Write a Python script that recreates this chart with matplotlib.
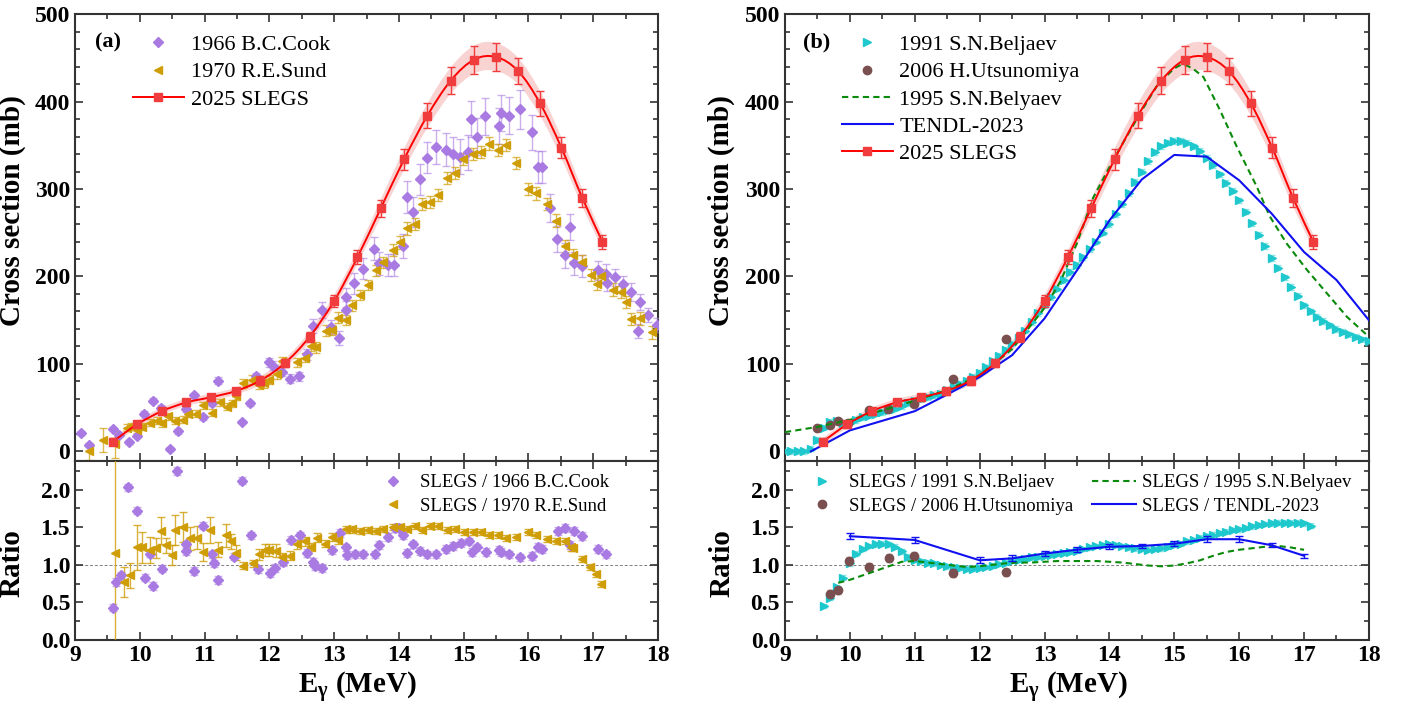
import numpy as np
import matplotlib
import matplotlib.pyplot as plt
from matplotlib.path import Path
from matplotlib.patches import PathPatch
from matplotlib.ticker import MultipleLocator

matplotlib.use('agg')
plt.rcParams['font.family'] = ['Liberation Serif', 'DejaVu Serif']
plt.rcParams['mathtext.fontset'] = 'custom'
plt.rcParams['mathtext.rm'] = 'Liberation Serif'
plt.rcParams['mathtext.bf'] = 'Liberation Serif:bold'
plt.rcParams['mathtext.it'] = 'Liberation Serif:italic'

c_slegs = '#f03c3c'
c_band = '#f7c4c4'
c_cook = '#a97be2'
c_sund = '#cf9d05'
c_bel91 = '#1ec8cc'
c_uts = '#7a4f4f'
c_bel95 = '#0a8a0a'
c_tendl = '#1010f0'

# ---- 2025 SLEGS
slegs_e = [9.58, 9.96, 10.34, 10.72, 11.10, 11.48, 11.86, 12.24, 12.62, 13.00, 13.36,
           13.72, 14.08, 14.44, 14.80, 15.16, 15.50, 15.84, 16.18, 16.51, 16.83, 17.14]
slegs_xs = [11, 31, 46, 56, 62, 69, 81, 101, 131, 172, 222,
            278, 334, 384, 424, 448, 451, 435, 398, 347, 290, 240]
slegs_err = [4, 4, 4, 4, 4, 4, 5, 5, 6, 7, 8,
             10, 12, 14, 15, 16, 16, 15, 14, 12, 10, 8]

# ---- 1966 B.C.Cook
cook_e = [9.09, 9.21, 9.59, 9.68, 9.83, 9.95, 10.07, 10.21, 10.33, 10.47, 10.59, 10.71,
          10.84, 10.97, 11.11, 11.21, 11.57, 11.70, 11.80, 12.00, 12.06, 12.20, 12.32,
          12.46, 12.58, 12.68, 12.82, 12.95, 13.08, 13.18, 13.19, 13.31, 13.44, 13.62,
          13.70, 13.83, 13.93, 14.06, 14.12, 14.21, 14.33, 14.44, 14.58, 14.73, 14.84,
          14.95, 15.07, 15.12, 15.20, 15.33, 15.55, 15.57, 15.70, 15.87, 16.06, 16.15,
          16.21, 16.34, 16.44, 16.57, 16.64, 16.71, 16.82, 17.08, 17.19, 17.22, 17.33,
          17.46, 17.59, 17.69, 17.72, 17.85, 17.98]
cook_xs = [21, 7, 26, 19, 11, 18, 43, 58, 50, 3, 23, 48,
           64, 39, 55, 81, 34, 55, 86, 102, 98, 91, 83,
           86, 111, 143, 162, 142, 130, 162, 176, 192, 209, 232,
           215, 213, 213, 235, 291, 274, 311, 336, 348, 345, 340,
           337, 342, 380, 360, 383, 372, 387, 384, 391, 365, 325,
           325, 278, 243, 224, 257, 215, 212, 207, 203, 193, 199,
           191, 182, 138, 171, 156, 144]
cook_err = [2, 2, 2, 2, 2, 2, 3, 3, 3, 2, 3, 3,
            3, 3, 3, 4, 2, 3, 4, 5, 5, 5, 5,
            5, 6, 8, 9, 8, 8, 10, 11, 12, 12, 13,
            13, 13, 13, 14, 18, 17, 18, 18, 19, 19, 20,
            20, 20, 21, 21, 21, 21, 21, 21, 22, 20, 18,
            18, 16, 15, 14, 15, 13, 13, 11, 11, 10, 10,
            10, 10, 8, 9, 8, 8]

# ---- 1970 R.E.Sund
sund_e = [9.21, 9.43, 9.61, 9.80, 9.87, 9.95, 10.03, 10.16, 10.26, 10.34, 10.44, 10.54,
          10.67, 10.75, 10.87, 10.98, 11.11, 11.23, 11.35, 11.42, 11.48, 11.60, 11.73,
          11.84, 11.92, 12.00, 12.11, 12.20, 12.42, 12.55, 12.64, 12.72, 12.87, 12.96,
          13.06, 13.18, 13.28, 13.40, 13.52, 13.65, 13.76, 13.91, 14.02, 14.12, 14.25,
          14.35, 14.48, 14.61, 14.74, 14.86, 14.99, 15.14, 15.27, 15.39, 15.53, 15.66,
          15.80, 16.00, 16.12, 16.28, 16.42, 16.56, 16.69, 16.82, 16.96, 17.06, 17.12,
          17.30, 17.43, 17.51, 17.58, 17.72, 17.91]
sund_xs = [0, 13, 8, 27, 29, 25, 28, 33, 35, 32, 40, 35,
           36, 43, 43, 53, 44, 56, 51, 55, 63, 78, 82,
           76, 78, 82, 88, 103, 102, 107, 121, 119, 138, 139,
           153, 150, 167, 179, 190, 207, 216, 230, 239, 255, 260,
           283, 285, 293, 313, 318, 334, 340, 342, 352, 345, 350,
           330, 300, 295, 283, 264, 235, 225, 217, 202, 191, 201,
           185, 182, 171, 151, 152, 136]
sund_err = [10, 14, 15, 4, 4, 4, 4, 4, 4, 4, 4, 4,
            4, 4, 4, 4, 4, 4, 4, 4, 4, 5, 5,
            5, 5, 5, 5, 5, 5, 5, 6, 6, 6, 6,
            6, 6, 6, 6, 6, 6, 6, 7, 7, 7, 7,
            7, 7, 7, 7, 7, 7, 7, 7, 7, 7, 7,
            7, 7, 7, 7, 7, 7, 7, 7, 7, 7, 7,
            7, 7, 7, 7, 7, 7]

# ---- 1991 S.N.Beljaev
bel91_e = [9.0, 9.1, 9.2, 9.3, 9.4, 9.5, 9.6, 9.7, 9.8, 9.9, 10.0, 10.1, 10.2, 10.3,
           10.4, 10.5, 10.6, 10.7, 10.8, 10.9, 11.0, 11.1, 11.2, 11.3, 11.4, 11.5, 11.6,
           11.7, 11.8, 11.9, 12.0, 12.1, 12.2, 12.3, 12.4, 12.5, 12.6, 12.7, 12.8, 12.9,
           13.0, 13.1, 13.2, 13.3, 13.4, 13.5, 13.6, 13.7, 13.8, 13.9, 14.0, 14.1, 14.2,
           14.3, 14.4, 14.5, 14.6, 14.7, 14.8, 14.9, 15.0, 15.1, 15.2, 15.3, 15.4, 15.5,
           15.6, 15.7, 15.8, 15.9, 16.0, 16.1, 16.2, 16.3, 16.4, 16.5, 16.6, 16.7, 16.8,
           16.9, 17.0, 17.1, 17.2, 17.3, 17.4, 17.5, 17.6, 17.7, 17.8, 17.9, 18.0]
bel91_xs = [0, 0, 0, 0, 3, 13, 27, 34, 35, 33, 33, 36, 39, 41,
            43, 45, 47, 49, 52, 55, 58, 60, 62, 64, 66, 70, 74,
            77, 81, 85, 90, 96, 103, 109, 116, 123, 130, 138, 148, 158,
            167, 176, 186, 196, 205, 213, 222, 231, 240, 250, 260, 271, 283,
            295, 308, 320, 332, 342, 349, 353, 355, 355, 353, 349, 344, 336,
            327, 317, 307, 298, 287, 274, 261, 248, 235, 221, 210, 199, 188,
            178, 167, 160, 154, 149, 144, 140, 137, 134, 131, 128, 126]

# ---- 2006 H.Utsunomiya
uts_e = [9.50, 9.69, 9.81, 9.97, 10.29, 10.59, 10.99, 11.59, 12.40]
uts_xs = [27, 30, 35, 32, 47, 49, 54, 83, 128]

# ---- 1995 S.N.Belyaev (curve)
bel95_e = [9.0, 9.5, 10.0, 10.5, 11.0, 11.5, 12.0, 12.5, 13.0, 13.25, 13.5, 13.75, 14.0,
           14.25, 14.5, 14.75, 15.0, 15.1, 15.2, 15.3, 15.45, 15.7, 15.96, 16.27, 16.47,
           16.73, 17.04, 17.35, 17.66, 18.0]
bel95_xs = [22, 28, 36, 47, 58, 70, 87, 117, 164, 195, 238, 290, 325,
            358, 390, 420, 438, 442, 441, 437, 428, 391, 349, 303, 269,
            238, 208, 181, 154, 131]

# ---- TENDL-2023
tendl_e = [9.4, 10.0, 11.0, 11.5, 12.0, 12.5, 13.0, 13.5, 14.0, 14.5, 15.0, 15.5,
           16.0, 16.5, 17.0, 17.5, 18.0]
tendl_xs = [0, 24, 46, 65, 85, 110, 152, 207, 264, 311, 339, 337,
            310, 272, 228, 196, 150]

# ---- ratios
r_cook_e = [9.58, 9.63, 9.71, 9.82, 9.95, 10.08, 10.15, 10.21, 10.34, 10.58, 10.71, 10.72,
            10.83, 10.97, 11.11, 11.14, 11.20, 11.45, 11.58, 11.72, 11.83, 12.01, 12.09,
            12.21, 12.33, 12.47, 12.58, 12.68, 12.70, 12.82, 12.96, 13.09, 13.19, 13.20,
            13.32, 13.45, 13.63, 13.70, 13.83, 13.94, 14.00, 14.07, 14.12, 14.21, 14.33,
            14.44, 14.58, 14.73, 14.84, 14.96, 15.08, 15.13, 15.20, 15.34, 15.55, 15.57,
            15.70, 15.87, 16.06, 16.15, 16.21, 16.45, 16.57, 16.64, 16.71, 16.82, 17.08,
            17.19]
r_cook = [0.43, 0.77, 0.86, 2.03, 1.72, 0.83, 1.15, 0.72, 0.95, 2.25, 1.27, 1.18,
          0.92, 1.52, 1.14, 1.02, 0.80, 1.11, 2.12, 1.39, 0.94, 0.89, 0.96,
          1.04, 1.33, 1.39, 1.16, 1.04, 0.98, 0.96, 1.20, 1.42, 1.23, 1.13,
          1.14, 1.14, 1.14, 1.26, 1.37, 1.49, 1.49, 1.39, 1.16, 1.27, 1.18,
          1.14, 1.14, 1.21, 1.25, 1.29, 1.31, 1.17, 1.23, 1.17, 1.20, 1.17,
          1.14, 1.10, 1.12, 1.24, 1.21, 1.45, 1.49, 1.26, 1.45, 1.38, 1.21,
          1.14]

r_sund_e = [9.62, 9.76, 9.85, 9.96, 10.04, 10.15, 10.25, 10.32, 10.41, 10.49, 10.54, 10.66,
            10.77, 10.88, 10.98, 11.09, 11.21, 11.33, 11.40, 11.48, 11.60, 11.74, 11.84,
            11.93, 12.00, 12.10, 12.20, 12.32, 12.43, 12.55, 12.64, 12.73, 12.86, 12.96,
            13.06, 13.18, 13.28, 13.40, 13.52, 13.65, 13.76, 13.91, 14.02, 14.12, 14.25,
            14.35, 14.48, 14.61, 14.74, 14.86, 15.00, 15.14, 15.27, 15.39, 15.53, 15.66,
            15.80, 16.00, 16.12, 16.28, 16.42, 16.56, 16.66, 16.69, 16.82, 16.95, 17.05,
            17.12]
r_sund = [1.16, 0.77, 0.86, 1.23, 1.23, 1.20, 1.22, 1.45, 1.26, 1.13, 1.46, 1.50,
          1.35, 1.36, 1.17, 1.46, 1.20, 1.39, 1.31, 1.16, 0.99, 1.02, 1.14,
          1.20, 1.20, 1.19, 1.10, 1.12, 1.27, 1.31, 1.24, 1.36, 1.28, 1.37,
          1.33, 1.47, 1.47, 1.45, 1.46, 1.45, 1.47, 1.50, 1.50, 1.47, 1.51,
          1.46, 1.51, 1.51, 1.46, 1.47, 1.44, 1.44, 1.44, 1.39, 1.39, 1.35,
          1.37, 1.44, 1.39, 1.34, 1.31, 1.31, 1.23, 1.22, 1.08, 0.97, 0.88,
          0.74]
r_sund_err = [1.5, 0.2, 0.17, 0.3, 0.2, 0.17, 0.13, 0.18, 0.1, 0.13, 0.2, 0.2,
              0.15, 0.15, 0.12, 0.17, 0.1, 0.15, 0.1, 0.1, 0.05, 0.05, 0.07,
              0.08, 0.08, 0.08, 0.06, 0.06, 0.06, 0.06, 0.05, 0.06, 0.05, 0.05,
              0.05, 0.05, 0.05, 0.04, 0.04, 0.04, 0.04, 0.04, 0.04, 0.04, 0.04,
              0.04, 0.04, 0.04, 0.04, 0.04, 0.04, 0.04, 0.04, 0.04, 0.04, 0.04,
              0.04, 0.04, 0.04, 0.04, 0.04, 0.04, 0.04, 0.04, 0.04, 0.04, 0.04,
              0.04]

r_bel91_e = [9.6, 9.7, 9.8, 9.9, 10.0, 10.1, 10.2, 10.3, 10.4, 10.5, 10.6, 10.7, 10.8,
             10.9, 11.0, 11.1, 11.2, 11.3, 11.4, 11.5, 11.6, 11.7, 11.8, 11.9, 12.0, 12.1,
             12.2, 12.3, 12.4, 12.5, 12.6, 12.7, 12.8, 12.9, 13.0, 13.1, 13.2, 13.3, 13.4,
             13.5, 13.6, 13.7, 13.8, 13.9, 14.0, 14.1, 14.2, 14.3, 14.4, 14.5, 14.6, 14.7,
             14.8, 14.9, 15.0, 15.1, 15.2, 15.3, 15.4, 15.5, 15.6, 15.7, 15.8, 15.9, 16.0,
             16.1, 16.2, 16.3, 16.4, 16.5, 16.6, 16.7, 16.8, 16.9, 17.0, 17.1]
r_bel91 = [0.45, 0.56, 0.70, 0.83, 1.02, 1.15, 1.21, 1.25, 1.27, 1.28, 1.27, 1.24, 1.18,
           1.11, 1.07, 1.05, 1.03, 1.02, 1.00, 0.98, 0.97, 0.96, 0.95, 0.95, 0.96, 0.97,
           0.99, 1.01, 1.03, 1.05, 1.07, 1.08, 1.10, 1.11, 1.12, 1.13, 1.15, 1.16, 1.17,
           1.19, 1.21, 1.23, 1.25, 1.26, 1.27, 1.26, 1.25, 1.23, 1.22, 1.21, 1.20, 1.21,
           1.22, 1.24, 1.26, 1.28, 1.31, 1.33, 1.36, 1.38, 1.40, 1.42, 1.44, 1.46, 1.47,
           1.49, 1.51, 1.53, 1.54, 1.55, 1.56, 1.56, 1.56, 1.56, 1.55, 1.52]

r_uts_e = [9.69, 9.81, 9.99, 10.29, 10.60, 10.99, 11.59, 12.40]
r_uts = [0.61, 0.66, 1.05, 0.97, 1.09, 1.12, 0.89, 0.90]

r_bel95_e = [9.82, 10.0, 10.2, 10.4, 10.6, 10.8, 11.0, 11.2, 11.4, 11.6, 11.8, 12.0, 12.2,
             12.4, 12.6, 12.8, 13.0, 13.2, 13.4, 13.6, 13.8, 14.0, 14.2, 14.4, 14.6, 14.8,
             15.0, 15.2, 15.4, 15.6, 15.8, 16.0, 16.2, 16.4, 16.6, 16.8, 17.0]
r_bel95 = [0.76, 0.80, 0.86, 0.92, 0.98, 1.04, 1.05, 1.03, 1.01, 0.99, 0.97, 0.98, 1.00,
           1.02, 1.03, 1.03, 1.04, 1.05, 1.05, 1.05, 1.05, 1.04, 1.03, 1.01, 0.99, 0.98,
           0.99, 1.02, 1.06, 1.12, 1.17, 1.20, 1.22, 1.24, 1.25, 1.23, 1.20]

r_tendl_e = [10.0, 11.0, 12.0, 12.5, 13.0, 13.5, 14.0, 14.5, 15.0, 15.5, 16.0, 16.5, 17.0]
r_tendl = [1.38, 1.33, 1.06, 1.085, 1.15, 1.20, 1.24, 1.25, 1.28, 1.34, 1.34, 1.26, 1.12]
r_tendl_err = [0.04, 0.04, 0.04, 0.04, 0.03, 0.03, 0.03, 0.03, 0.03, 0.04, 0.04, 0.03, 0.03]


def smooth_verts(x, y):
    # Catmull-Rom segments as cubic Bezier control points
    pts = np.column_stack([x, y]).astype(float)
    n = len(pts)
    verts = [pts[0]]
    for i in range(n - 1):
        p0 = pts[max(i - 1, 0)]
        p1 = pts[i]
        p2 = pts[i + 1]
        p3 = pts[min(i + 2, n - 1)]
        verts += [p1 + (p2 - p0) / 6, p2 - (p3 - p1) / 6, p2]
    return verts


def draw_slegs(ax, label):
    e = np.array(slegs_e)
    xs = np.array(slegs_xs)
    err = np.array(slegs_err)
    up = smooth_verts(e, xs + err)
    lo = smooth_verts(e[::-1], (xs - err)[::-1])
    verts = up + [lo[0]] + lo[1:] + [up[0]]
    codes = ([Path.MOVETO] + [Path.CURVE4] * (len(up) - 1) + [Path.LINETO]
             + [Path.CURVE4] * (len(lo) - 1) + [Path.CLOSEPOLY])
    ax.add_patch(PathPatch(Path(verts, codes), facecolor=c_band, edgecolor='none',
                           alpha=0.75, zorder=1))
    line = smooth_verts(e, xs)
    codes = [Path.MOVETO] + [Path.CURVE4] * (len(line) - 1)
    ax.add_patch(PathPatch(Path(line, codes), facecolor='none', edgecolor='red',
                           lw=1.4, zorder=5))
    ax.errorbar(e, xs, yerr=err, fmt='none', ecolor=c_slegs, elinewidth=1.0,
                capsize=3, capthick=1.0, zorder=5)
    ax.plot(e, xs, ls='none', marker='s', ms=6, color=c_slegs, zorder=6)
    # legend proxy
    ax.plot([], [], color='red', lw=1.4, marker='s', ms=6, mfc=c_slegs, mec=c_slegs,
            label=label)


def style(ax, ylim, major, minor, fmt):
    ax.set_xlim(9, 18)
    ax.set_ylim(*ylim)
    ax.xaxis.set_major_locator(MultipleLocator(1))
    ax.xaxis.set_minor_locator(MultipleLocator(0.5))
    ax.yaxis.set_major_locator(MultipleLocator(major))
    ax.yaxis.set_minor_locator(MultipleLocator(minor))
    ax.tick_params(which='both', direction='in', top=True, right=True,
                   labelsize=17, width=1.2, color='#333333')
    ax.tick_params(which='major', length=6)
    ax.tick_params(which='minor', length=3.5)
    ax.yaxis.set_major_formatter(fmt)
    for s in ax.spines.values():
        s.set_linewidth(1.5)
        s.set_color('#333333')
    for lbl in ax.get_xticklabels() + ax.get_yticklabels():
        lbl.set_fontweight('bold')


fig = plt.figure(figsize=(14.03, 7.06), dpi=100)
axa = fig.add_axes([0.0535, 0.347, 0.4155, 0.633])
axar = fig.add_axes([0.0535, 0.0935, 0.4155, 0.2535])
axb = fig.add_axes([0.5595, 0.347, 0.4162, 0.633])
axbr = fig.add_axes([0.5595, 0.0935, 0.4162, 0.2535])

leg_top = dict(loc='upper left', frameon=False, fontsize=16, handlelength=2.3,
               handletextpad=0.3, labelspacing=0.3, borderpad=0, borderaxespad=0)
leg_rat = dict(loc='upper left', frameon=False, fontsize=13.5, handlelength=2.35,
               handletextpad=0.3, labelspacing=0.35, borderpad=0, borderaxespad=0)

# ---------------- panel (a)
axa.errorbar(cook_e, cook_xs, yerr=cook_err, fmt='none', ecolor=c_cook, alpha=0.6,
             elinewidth=1.0, capsize=3, zorder=3)
axa.plot(cook_e, cook_xs, ls='none', marker='D', ms=5, color=c_cook, zorder=4,
         label='1966 B.C.Cook')
axa.errorbar(sund_e, sund_xs, yerr=sund_err, fmt='none', ecolor=c_sund, alpha=0.7,
             elinewidth=1.0, capsize=3, zorder=3)
axa.plot(sund_e, sund_xs, ls='none', marker='<', ms=6, color=c_sund, zorder=4,
         label='1970 R.E.Sund')
draw_slegs(axa, '2025 SLEGS')
axa.legend(bbox_to_anchor=(0.099, 0.954), **leg_top)
axa.text(0.034, 0.937, '(a)', transform=axa.transAxes, fontsize=16,
         fontweight='bold', va='center')
axa.set_ylabel('Cross section (mb)', fontsize=21, fontweight='bold')
axa.yaxis.set_label_coords(-0.085, 0.56)
style(axa, (-11, 500), 100, 20, '{x:.0f}')
axa.tick_params(labelbottom=False)

axar.axhline(1.0, color='gray', ls=(0, (3, 2)), lw=0.7, zorder=1)
axar.errorbar(r_cook_e, r_cook, yerr=0.05, fmt='none', ecolor=c_cook, alpha=0.6,
              elinewidth=1.0, capsize=3, zorder=3)
axar.plot(r_cook_e, r_cook, ls='none', marker='D', ms=5, color=c_cook, zorder=4,
          label='SLEGS / 1966 B.C.Cook')
axar.errorbar(r_sund_e, r_sund, yerr=r_sund_err, fmt='none', ecolor=c_sund, alpha=0.8,
              elinewidth=1.0, capsize=3, zorder=3)
axar.plot(r_sund_e, r_sund, ls='none', marker='<', ms=6, color=c_sund, zorder=4,
          label='SLEGS / 1970 R.E.Sund')
axar.legend(bbox_to_anchor=(0.507, 0.927), **leg_rat)
axar.set_ylabel('Ratio', fontsize=21, fontweight='bold')
axar.yaxis.set_label_coords(-0.085, 0.43)
axar.set_xlabel(r'E$_{\mathbf{\gamma}}$ (MeV)', fontsize=21, fontweight='bold')
axar.xaxis.set_label_coords(0.485, -0.17)
style(axar, (0, 2.38), 0.5, 0.25, '{x:.1f}')

# ---------------- panel (b)
axb.errorbar(bel91_e, bel91_xs, yerr=3, fmt='none', ecolor='#8fe6e6', elinewidth=1.0,
             capsize=2, zorder=2)
axb.plot(bel91_e, bel91_xs, ls='none', marker='>', ms=6, color=c_bel91, zorder=3,
         label='1991 S.N.Beljaev')
axb.plot(uts_e, uts_xs, ls='none', marker='o', ms=6, color=c_uts, zorder=4,
         label='2006 H.Utsunomiya')
axb.plot(bel95_e, bel95_xs, ls=(0, (3, 2)), lw=1.5, color=c_bel95, zorder=4,
         label='1995 S.N.Belyaev')
axb.plot(tendl_e, tendl_xs, lw=1.5, color=c_tendl, zorder=4, label='TENDL-2023')
draw_slegs(axb, '2025 SLEGS')
axb.legend(bbox_to_anchor=(0.097, 0.954), **leg_top)
axb.text(0.031, 0.937, '(b)', transform=axb.transAxes, fontsize=16,
         fontweight='bold', va='center')
axb.set_ylabel('Cross section (mb)', fontsize=21, fontweight='bold')
axb.yaxis.set_label_coords(-0.085, 0.56)
style(axb, (-11, 500), 100, 20, '{x:.0f}')
axb.tick_params(labelbottom=False)

axbr.axhline(1.0, color='gray', ls=(0, (3, 2)), lw=0.7, zorder=1)
axbr.errorbar(r_bel91_e, r_bel91, yerr=0.03, fmt='none', ecolor='#8fe6e6',
              elinewidth=1.0, capsize=2, zorder=2)
axbr.plot(r_bel91_e, r_bel91, ls='none', marker='>', ms=6, color=c_bel91, zorder=3,
          label='SLEGS / 1991 S.N.Beljaev')
axbr.errorbar(r_uts_e, r_uts, yerr=0.05, fmt='none', ecolor=c_uts, alpha=0.6,
              elinewidth=1.0, capsize=2, zorder=3)
axbr.plot(r_uts_e, r_uts, ls='none', marker='o', ms=6, color=c_uts, zorder=4,
          label='SLEGS / 2006 H.Utsunomiya')
axbr.plot(r_bel95_e, r_bel95, ls=(0, (3, 2)), lw=1.5, color=c_bel95, zorder=4,
          label='SLEGS / 1995 S.N.Belyaev')
axbr.errorbar(r_tendl_e, r_tendl, yerr=r_tendl_err, fmt='none', ecolor=c_tendl,
              elinewidth=1.0, capsize=3, zorder=5)
axbr.plot(r_tendl_e, r_tendl, lw=1.5, color=c_tendl, zorder=5,
          label='SLEGS / TENDL-2023')
axbr.legend(bbox_to_anchor=(0.025, 0.927), ncol=2, columnspacing=1.0, **leg_rat)
axbr.set_ylabel('Ratio', fontsize=21, fontweight='bold')
axbr.yaxis.set_label_coords(-0.085, 0.43)
axbr.set_xlabel(r'E$_{\mathbf{\gamma}}$ (MeV)', fontsize=21, fontweight='bold')
axbr.xaxis.set_label_coords(0.485, -0.17)
style(axbr, (0, 2.38), 0.5, 0.25, '{x:.1f}')

fig.savefig('out.png', dpi=100)
